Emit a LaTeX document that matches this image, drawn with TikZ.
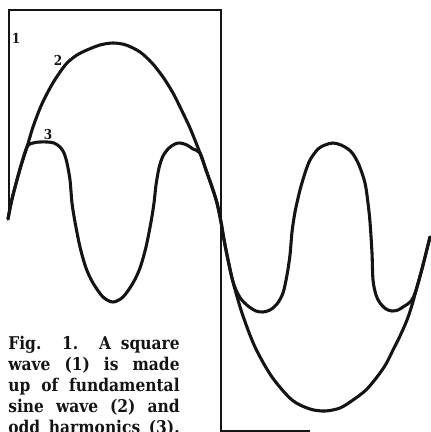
\documentclass[tikz,border=0pt]{standalone}
\usepackage{fontspec}
\newfontfamily\capfont{DejaVu Serif}[FakeStretch=0.88]
\usetikzlibrary{calc}
\definecolor{inkcolor}{RGB}{20,20,20}
\tikzset{
  wave/.style    = {draw=inkcolor, line width=1.75pt, line join=round, line cap=round},
  sqwave/.style  = {draw=inkcolor, line width=1.5pt, line join=miter},
  lbl/.style     = {font=\capfont\bfseries\fontsize{7.8}{8}\selectfont, inner sep=0pt,
                    text=inkcolor},
  caption/.style = {font=\capfont\bfseries\fontsize{10}{11.9}\selectfont, inner sep=0pt,
                    align=left, anchor=base west, text=inkcolor},
}
\newcommand{\capline}[1]{\makebox[97.5pt][s]{#1}}

\begin{document}
\begin{tikzpicture}[x=0.02cm, y=-0.02cm]
  \useasboundingbox (0,0) rectangle (430,432);
  % square wave (1)
  \coordinate (s0) at (9,219);
  \coordinate (s1) at (9,10);
  \coordinate (s2) at (221,10);
  \coordinate (s3) at (221,431);
  \coordinate (s4) at (310,431);
  \draw[sqwave] (s0) -- (s1) -- (s2) -- (s3) -- (s4);
  % fundamental sine wave (2)
  \draw[wave] plot[smooth] coordinates {(8,219) (12,199) (20,169) (27,147) (33,127)
    (41,106) (50,88) (58,75) (67,63) (77,55) (87,50) (100,45) (113,43) (126,45)
    (140,52) (152,63) (163,77) (173,93) (181,109) (190,128) (200,153) (206,170)
    (212,187) (217,203) (221,222) (225,245) (232,278) (242,313) (255,347) (272,377)
    (292,400) (310,409) (325,411) (340,408) (353,400) (366,390) (377,377) (386,364)
    (393,350) (400,336) (407,320) (412,305) (417,287) (423,265) (430,237)};
  % odd harmonics (3)
  \draw[wave] plot[smooth] coordinates {(8,219) (12,199) (20,169) (27,147) (33,143)
    (40,142) (47,142) (54,143) (60,147) (64,153) (67,163) (70,180) (72,203) (75,222)
    (80,247) (86,268) (93,283) (103,297) (113,302) (123,297) (133,283) (140,268)
    (146,247) (151,222) (154,203) (156,185) (159,168) (163,156) (169,148) (175,144)
    (180,143) (187,145) (193,149) (200,153) (206,170) (212,187) (217,203) (221,222)
    (225,245) (232,278) (236,290) (241,299) (248,306) (256,311) (263,312) (270,310)
    (277,304) (283,293) (287,275) (290,255) (292,232) (295,212) (300,190) (305,173)
    (310,160) (318,149) (325,145) (333,143) (341,145) (348,149) (353,154) (359,165)
    (365,183) (368,203) (370,222) (372,253) (373,280) (376,295) (380,303) (386,309)
    (392,311) (398,310) (403,307) (409,303) (413,298) (417,287) (423,265) (430,237)};
  % labels
  \node[lbl] (one)   at (16,38)  {1};
  \node[lbl] (two)   at (58,60)  {2};
  \node[lbl] (three) at (48,135) {3};
  % caption
  \node[caption] (cap) at (8,433.3) {\capline{Fig. 1. A square}\\
    \capline{wave (1) is made}\\ \capline{up of fundamental}\\
    \capline{sine wave (2) and}\\ \capline{odd harmonics (3).}};
\end{tikzpicture}
\end{document}
